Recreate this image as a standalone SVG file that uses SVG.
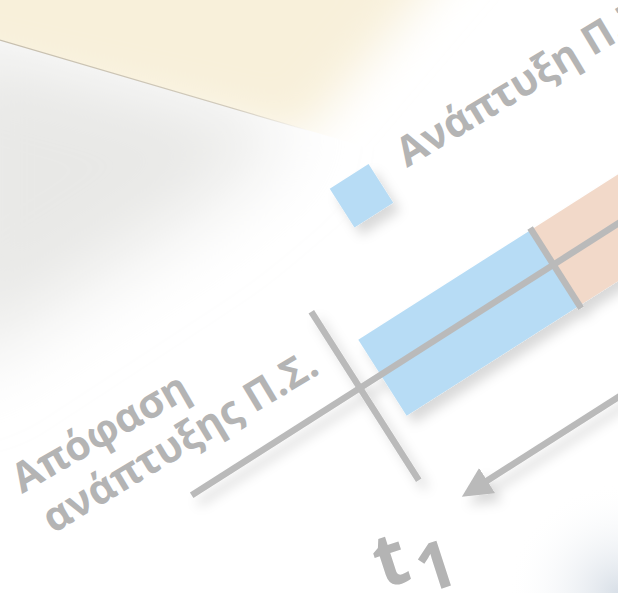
<svg xmlns="http://www.w3.org/2000/svg" width="618" height="593" viewBox="0 0 618 593">
<defs>
<style>
.txt{font-family:"Open Sans","DejaVu Sans",sans-serif;fill:#b4b4b4;font-weight:700}
.ln{stroke:#bababa;stroke-width:6.5;fill:none}
.blue{fill:#b7dcf5}
.peach{fill:#f2d9c9}
</style>
<filter id="blurL" x="-60%" y="-60%" width="220%" height="220%"><feGaussianBlur stdDeviation="40"/></filter>
<filter id="blurM" x="-60%" y="-60%" width="220%" height="220%"><feGaussianBlur stdDeviation="24"/></filter>
<filter id="sh" x="-30%" y="-30%" width="160%" height="160%"><feDropShadow dx="7" dy="8" stdDeviation="6" flood-color="#000" flood-opacity="0.15"/></filter>
<clipPath id="above"><polygon points="0,0 618,0 618,221 0,40"/></clipPath>
<clipPath id="below"><polygon points="0,40 618,221 618,593 0,593"/></clipPath>
<linearGradient id="lineFade" x1="0" y1="0" x2="1" y2="0"><stop offset="0" stop-color="#c7bfae"/><stop offset="0.75" stop-color="#c7bfae" stop-opacity="0.8"/><stop offset="1" stop-color="#c7bfae" stop-opacity="0"/></linearGradient>
<radialGradient id="corner" cx="618" cy="593" r="110" gradientUnits="userSpaceOnUse"><stop offset="0" stop-color="#d8dfe7"/><stop offset="1" stop-color="#ffffff" stop-opacity="0"/></radialGradient>
<marker id="ah" markerUnits="userSpaceOnUse" markerWidth="30" markerHeight="30" viewBox="0 0 28 28" refX="1" refY="14" orient="auto"><path d="M0,0 L28,14 L0,28 z" fill="#bababa"/></marker>
</defs>
<rect width="618" height="593" fill="#ffffff"/>
<g id="background">
<g clip-path="url(#above)"><polygon points="-60,-60 470,-60 300,140 -60,60" fill="#f8f0da" filter="url(#blurM)"/></g>
<g clip-path="url(#below)"><polygon points="-60,30 300,125 200,210 -60,380" fill="#e8e8e6" filter="url(#blurL)"/></g>
<line x1="0" y1="40" x2="310" y2="131" stroke="url(#lineFade)" stroke-width="1.3"/>
<rect width="618" height="593" fill="url(#corner)"/>
</g>
<g filter="url(#sh)">
<g id="legend-square"><rect class="blue" x="-23" y="-23" width="46" height="46" transform="translate(361.5,195.8) rotate(-32.5)"/></g>
<g transform="translate(468.5,323) rotate(-32.5)">
<g id="bar-blue"><rect class="blue" x="-102" y="-45" width="205" height="90"/></g>
<g id="bar-peach"><rect class="peach" x="103" y="-45" width="250" height="90"/></g>
<g id="connectors">
<line class="ln" x1="-326" y1="-3.5" x2="330" y2="-3.5"/>
<line class="ln" x1="-126.5" y1="-94" x2="-126.5" y2="106"/>
<line class="ln" x1="103" y1="-47" x2="103" y2="48"/>
<line class="ln" x1="330" y1="143" x2="-70" y2="143" marker-end="url(#ah)"/>
</g>
</g>
</g>
<g id="legend-label"><text class="txt" font-size="41" transform="translate(407,168) rotate(-31)">Ανάπτυξη Π.Σ.</text></g>
<g id="label-decision">
<text class="txt" font-size="41" transform="translate(22,494) rotate(-30)">Απόφαση</text>
<text class="txt" font-size="41" transform="translate(53,534) rotate(-31)">ανάπτυξης Π.Σ.</text>
</g>
<g id="label-t1"><text class="txt" font-size="74" transform="translate(383,589) rotate(-18)">t</text><text class="txt" font-size="66" transform="translate(425,594) rotate(-18)">1</text></g>
</svg>
